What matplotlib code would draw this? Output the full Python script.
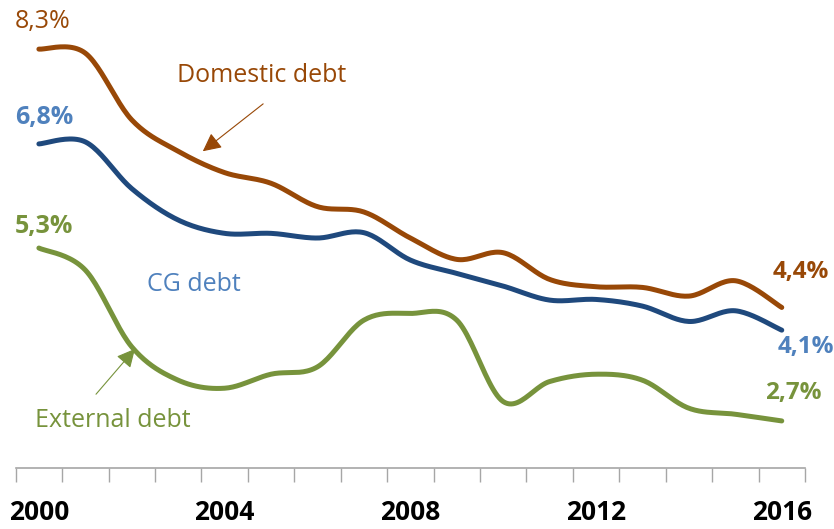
import matplotlib
matplotlib.use("Agg")
import matplotlib.pyplot as plt
import numpy as np

plt.rcParams["font.family"] = ["Open Sans", "DejaVu Sans"]

years = list(range(2000, 2017))
domestic = [8.28, 8.22, 7.22, 6.75, 6.43, 6.27, 5.92, 5.84, 5.45, 5.13, 5.23,
            4.83, 4.72, 4.71, 4.58, 4.81, 4.41]
cg = [6.86, 6.89, 6.19, 5.72, 5.52, 5.52, 5.45, 5.53, 5.12, 4.92, 4.73,
      4.52, 4.53, 4.43, 4.20, 4.36, 4.07]
external = [5.30, 4.97, 3.82, 3.32, 3.20, 3.41, 3.52, 4.22, 4.32, 4.22, 3.00,
            3.30, 3.41, 3.32, 2.90, 2.81, 2.71]
year_labels = ["2000", "2004", "2008", "2012", "2016"]

BROWN = "#984807"
NAVY = "#1F497D"
LIGHT_BLUE = "#4F81BD"
GREEN = "#77933C"
GREY = "#A6A6A6"


def smooth(xs, ys, steps=24):
    # Bezier smoothing through every point (control points at +/- 1/6 of the neighbour span)
    p = np.column_stack([xs, ys]).astype(float)
    p = np.vstack([p[0], p, p[-1]])
    out = []
    t = np.linspace(0, 1, steps)[:, None]
    for i in range(1, len(p) - 2):
        p0, p3 = p[i], p[i + 1]
        c1 = p0 + (p[i + 1] - p[i - 1]) / 6
        c2 = p3 - (p[i + 2] - p[i]) / 6
        seg = ((1 - t) ** 3) * p0 + 3 * ((1 - t) ** 2) * t * c1 + 3 * (1 - t) * t ** 2 * c2 + t ** 3 * p3
        out.append(seg if i == 1 else seg[1:])
    seg = np.vstack(out)
    return seg[:, 0], seg[:, 1]


fig = plt.figure(figsize=(8.34, 5.29), dpi=100)
ax = fig.add_axes([0.0188, 0.1147, 0.9464, 0.8833])

x = np.arange(len(years))
for vals, col in [(domestic, BROWN), (cg, NAVY), (external, GREEN)]:
    sx, sy = smooth(x, vals)
    ax.plot(sx, sy, color=col, lw=3.6, solid_capstyle="round", solid_joinstyle="round")

ax.set_xlim(-0.5, len(years) - 0.5)
ax.set_ylim(2, 9)

for side in ["top", "right", "left"]:
    ax.spines[side].set_visible(False)
ax.spines["bottom"].set_color(GREY)
ax.spines["bottom"].set_linewidth(1.2)
ax.set_yticks([])

# category boundaries carry the ticks, labels sit in the middle of every fourth year
ax.set_xticks(np.arange(-0.5, len(years), 1.0))
ax.set_xticklabels([])
ax.tick_params(axis="x", which="major", direction="out", length=10, width=1.0, color=GREY)
ax.set_xticks([years.index(int(y)) for y in year_labels], minor=True)
ax.set_xticklabels(year_labels, minor=True, fontsize=19, fontweight="bold")
ax.tick_params(axis="x", which="minor", length=0, pad=22)

# start and end values
ax.text(-0.52, 8.70, "8,3%", color=BROWN, fontsize=18, ha="left", va="center")
ax.text(-0.52, 7.25, "6,8%", color=LIGHT_BLUE, fontsize=18, fontweight="bold", ha="left", va="center")
ax.text(-0.52, 5.63, "5,3%", color=GREEN, fontsize=18, fontweight="bold", ha="left", va="center")
ax.text(15.80, 4.94, "4,4%", color=BROWN, fontsize=17.5, fontweight="bold", ha="left", va="center")
ax.text(15.92, 3.82, "4,1%", color=LIGHT_BLUE, fontsize=17.5, fontweight="bold", ha="left", va="center")
ax.text(15.65, 3.13, "2,7%", color=GREEN, fontsize=17.5, fontweight="bold", ha="left", va="center")

# series names
ax.text(2.98, 7.88, "Domestic debt", color=BROWN, fontsize=18, ha="left", va="center")
ax.text(2.33, 4.75, "CG debt", color=LIGHT_BLUE, fontsize=18, ha="left", va="center")
ax.text(-0.08, 2.72, "External debt", color=GREEN, fontsize=18, ha="left", va="center")

ax.annotate("", xy=(3.53, 6.75), xytext=(4.83, 7.46),
            arrowprops=dict(arrowstyle="-|>,head_length=0.8,head_width=0.4",
                            color=BROWN, lw=0.8, mutation_scale=14, shrinkA=0, shrinkB=0))
ax.annotate("", xy=(2.07, 3.79), xytext=(1.23, 3.11),
            arrowprops=dict(arrowstyle="-|>,head_length=0.8,head_width=0.4",
                            color=GREEN, lw=0.8, mutation_scale=14, shrinkA=0, shrinkB=0))

fig.savefig("out.png", dpi=100)
